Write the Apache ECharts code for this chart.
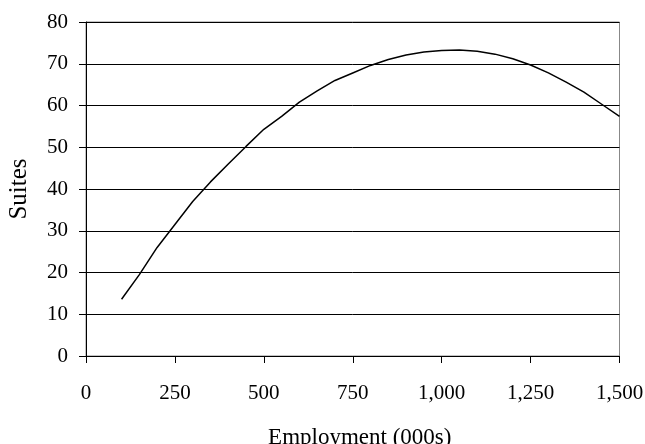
<!DOCTYPE html>
<html><head><meta charset="utf-8">
<script src="https://cdn.jsdelivr.net/npm/echarts@6/dist/echarts.min.js"></script>
<style>html,body{margin:0;padding:0;background:#fff}#c{width:645px;height:444px}</style>
</head><body><div id="c"></div>
<script>
var employment = [100,150,200,250,300,350,400,450,500,550,600,650,700,750,800,850,900,950,1000,1050,1100,1150,1200,1250,1300,1350,1400,1450,1500];
var suites = [13.6,19.5,26,31.5,37,41.7,46,50.2,54.3,57.4,60.8,63.5,66,67.8,69.6,71,72.1,72.8,73.2,73.3,73,72.3,71.2,69.7,67.8,65.6,63.2,60.3,57.4];
var xTitle = 'Employment (000s)';
var yTitle = 'Suites';

var font = 'Liberation Serif';
var chart = echarts.init(document.getElementById('c'), null, {renderer:'canvas'});
chart.setOption({
  animation:false,
  backgroundColor:'#fff',
  grid:{left:86,right:25.5,top:22,bottom:88,containLabel:false,outerBoundsMode:'none',
    show:true,borderColor:'#888',borderWidth:1,backgroundColor:'transparent'},
  xAxis:{type:'value',min:0,max:1500,interval:250,
    name:xTitle,nameLocation:'middle',nameGap:70,
    nameTextStyle:{fontFamily:font,fontSize:23,color:'#000',padding:[0,0,0,14]},
    axisLine:{show:true,onZero:false,lineStyle:{color:'#000',width:1}},
    axisTick:{show:true,length:7,lineStyle:{color:'#000'}},
    axisLabel:{fontFamily:font,fontSize:21,color:'#000',margin:27,
      formatter:function(v){return v.toLocaleString('en-US');}},
    splitLine:{show:false}},
  yAxis:{type:'value',min:0,max:80,interval:10,
    name:yTitle,nameLocation:'middle',nameGap:54,
    nameTextStyle:{fontFamily:font,fontSize:25,color:'#000'},
    axisLine:{show:true,lineStyle:{color:'#000',width:1}},
    axisTick:{show:true,length:7,lineStyle:{color:'#000'}},
    axisLabel:{fontFamily:font,fontSize:21,color:'#000',margin:18},
    splitLine:{show:true,lineStyle:{color:'#000',width:1}}},
  series:[{type:'line',data:employment.map(function(x,i){return [x,suites[i]];}),
    showSymbol:false,smooth:false,lineStyle:{color:'#000',width:1.5}}]
});
</script></body></html>
